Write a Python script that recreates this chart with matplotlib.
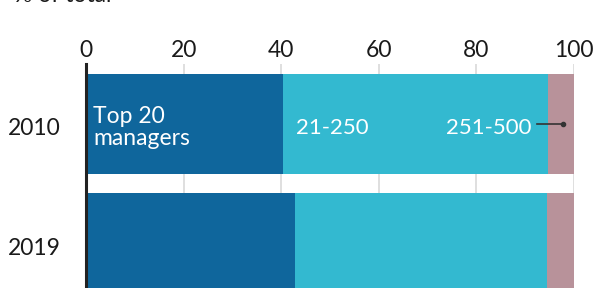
import matplotlib
matplotlib.use("Agg")
import matplotlib.pyplot as plt
from matplotlib.transforms import ScaledTranslation

# ── data ────────────────────────────────────────────────────────
years      = ["2010", "2019"]
top20      = [40.4, 42.8]     # top 20 managers, % of total
mid        = [54.2, 51.7]     # managers ranked 21-250
small      = [5.4, 5.5]       # managers ranked 251-500
x_ticks    = [0, 20, 40, 60, 80, 100]
seg_labels = ["Top 20\nmanagers", "21-250", "251-500"]

# ── style ───────────────────────────────────────────────────────
C_DARK = "#0f669c"
C_MID  = "#33b9d0"
C_PINK = "#b8929a"
FONT   = "Lato"
FS     = 16.5

plt.rcParams['font.family'] = [FONT, 'DejaVu Sans']

fig = plt.figure(figsize=(5.95, 2.88), dpi=100)
ax = fig.add_axes([86 / 595, 0, 488 / 595, 224 / 288])

ypos = list(range(len(years)))
h = 0.84
left_mid = top20
left_small = [a + b for a, b in zip(top20, mid)]

ax.barh(ypos, top20, height=h, color=C_DARK, zorder=2)
ax.barh(ypos, mid, left=left_mid, height=h, color=C_MID, zorder=2)
ax.barh(ypos, small, left=left_small, height=h, color=C_PINK, zorder=2)

ax.set_xlim(0, 100)
ax.set_ylim(1.378, -0.504)

ax.xaxis.tick_top()
ax.set_xticks(x_ticks)
ax.set_xticklabels([str(t) for t in x_ticks], fontsize=FS, color="#1a1a1a")
ax.set_yticks(ypos)
ax.set_yticklabels(years, fontsize=FS, color="#1a1a1a")
ax.tick_params(axis='x', length=0, pad=4)
ax.tick_params(axis='y', length=0, pad=18)

# nudge labels a few pixels down, like the reference
shift_down = ScaledTranslation(0, -3 / 100, fig.dpi_scale_trans)
for lbl in ax.get_yticklabels() + ax.get_xticklabels():
    lbl.set_transform(lbl.get_transform() + shift_down)

ax.grid(axis='x', color='#dcdcdc', linewidth=1.3, zorder=0)
ax.set_axisbelow(True)
for side in ['top', 'right', 'bottom']:
    ax.spines[side].set_visible(False)
ax.spines['left'].set_color('#222222')
ax.spines['left'].set_linewidth(2.2)
ax.spines['left'].set_zorder(3)

# segment labels on the 2010 bar
ax.text(1.5, 0.03, seg_labels[0], color='white', fontsize=FS,
        va='center', ha='left', linespacing=1.08, zorder=4)
ax.text(left_mid[0] + 2.6, 0.03, seg_labels[1], color='white',
        fontsize=FS - 0.5, va='center', ha='left', zorder=4)
ax.text(91.3, 0.03, seg_labels[2], color='white', fontsize=FS - 0.5,
        va='center', ha='right', zorder=4)
# pointer to the small 251-500 segment
ax.plot([92.4, left_small[0] + small[0] * 0.6], [0.0, 0.0],
        color='#333333', lw=1.2, zorder=4)
ax.plot([left_small[0] + small[0] * 0.6], [0.0], 'o',
        color='#333333', ms=3, zorder=4)

# unit caption, cropped at the very top as in the reference
fig.text(14 / 595, 1 - 2.5 / 288, "% of total", fontsize=FS,
         color='#1a1a1a', ha='left', va='baseline')

fig.savefig("out.png", dpi=100)
